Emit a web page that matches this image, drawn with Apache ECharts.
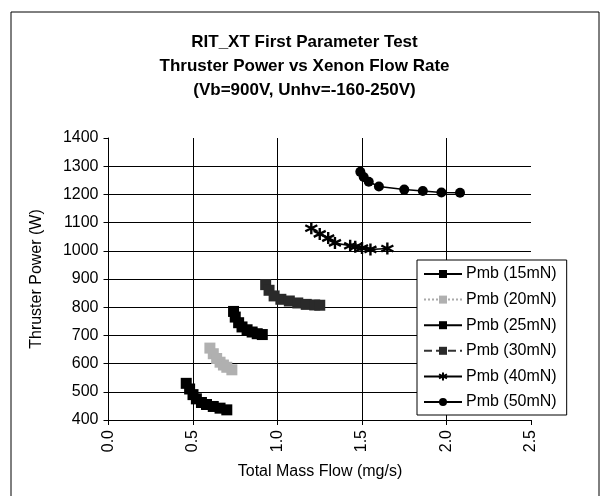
<!DOCTYPE html>
<html><head><meta charset="utf-8">
<script src="https://cdn.jsdelivr.net/npm/echarts@6/dist/echarts.min.js"></script>
<style>html,body{margin:0;padding:0;background:#fff}#c{width:609px;height:496px}</style>
</head><body><div id="c"></div>
<script>
const titleLines = ['RIT_XT First Parameter Test', 'Thruster Power vs Xenon Flow Rate', '(Vb=900V, Unhv=-160-250V)'];
const xName = 'Total Mass Flow (mg/s)';
const yName = 'Thruster Power (W)';
const seriesNames = ['Pmb (15mN)', 'Pmb (20mN)', 'Pmb (25mN)', 'Pmb (30mN)', 'Pmb (40mN)', 'Pmb (50mN)'];
const flow15 = [0.46, 0.48, 0.50, 0.52, 0.55, 0.58, 0.62, 0.66, 0.70];
const pow15  = [530, 510, 490, 475, 462, 455, 448, 442, 436];
const flow20 = [0.60, 0.62, 0.64, 0.66, 0.68, 0.70, 0.73];
const pow20  = [655, 635, 618, 605, 595, 587, 578];
const flow25 = [0.74, 0.75, 0.77, 0.79, 0.82, 0.85, 0.88, 0.91];
const pow25  = [785, 765, 745, 730, 720, 712, 706, 703];
const flow30 = [0.93, 0.95, 0.98, 1.02, 1.07, 1.12, 1.17, 1.22, 1.25];
const pow30  = [880, 860, 840, 828, 822, 815, 810, 808, 807];
const flow40 = [1.20, 1.25, 1.30, 1.34, 1.43, 1.46, 1.50, 1.55, 1.65];
const pow40  = [1080, 1060, 1045, 1028, 1018, 1014, 1010, 1005, 1008];
const flow50 = [1.49, 1.51, 1.54, 1.60, 1.75, 1.86, 1.97, 2.08];
const pow50  = [1280, 1262, 1245, 1228, 1217, 1212, 1207, 1206];
const xTicks = [0, 0.5, 1.0, 1.5, 2.0, 2.5];
const yTicks = [400, 500, 600, 700, 800, 900, 1000, 1100, 1200, 1300, 1400];

const zip = (a, b) => a.map((v, i) => [v, b[i]]);
const font = '"Liberation Sans", Arial, sans-serif';
const star = 'path://M0,-10L0,10M-8.7,-5L8.7,5M-8.7,5L8.7,-5';

const chart = echarts.init(document.getElementById('c'), null, {renderer: 'canvas'});
chart.setOption({
  animation: false,
  backgroundColor: '#fff',
  graphic: [
    {type: 'rect', shape: {x: 11, y: 12, width: 588, height: 500}, style: {fill: 'none', stroke: '#000', lineWidth: 1}, silent: true},
    {type: 'text', left: 'center', top: 30, style: {text: titleLines.join('\n'), font: 'bold 17px ' + font, fill: '#000', textAlign: 'center', lineHeight: 24}, z: 10},
    {type: 'text', x: 320, y: 472, style: {text: xName, font: '16px ' + font, fill: '#000', align: 'center', verticalAlign: 'middle'}},
    {type: 'text', x: 37, y: 279, rotation: Math.PI / 2, style: {text: yName, font: '16px ' + font, fill: '#000', align: 'center', verticalAlign: 'middle'}}
  ],
  grid: {left: 108.5, right: 78, top: 138, bottom: 76, containLabel: false},
  legend: {
    orient: 'vertical', left: 417, top: 260,
    data: seriesNames,
    backgroundColor: '#fff', borderColor: '#000', borderWidth: 1,
    padding: [6, 10, 5, 6],
    itemWidth: 38, itemHeight: 10, itemGap: 9.6,
    textStyle: {fontFamily: font, fontSize: 16, color: '#000', padding: [0, 0, 0, -1]},
    z: 20
  },
  xAxis: {
    type: 'value', min: xTicks[0], max: xTicks[xTicks.length - 1], interval: 0.5,
    axisLine: {show: true, onZero: false, lineStyle: {color: '#000', width: 1}},
    axisTick: {show: true, length: 5, lineStyle: {color: '#000'}},
    axisLabel: {rotate: 90, fontFamily: font, fontSize: 16, color: '#000', margin: 10,
      formatter: v => v.toFixed(1)},
    splitLine: {show: true, showMinLine: false, showMaxLine: false, lineStyle: {color: '#000', width: 1}}
  },
  yAxis: {
    type: 'value', min: yTicks[0], max: yTicks[yTicks.length - 1], interval: 100,
    axisLine: {show: true, onZero: false, lineStyle: {color: '#000', width: 1}},
    axisTick: {show: true, length: 5, lineStyle: {color: '#000'}},
    axisLabel: {fontFamily: font, fontSize: 16, color: '#000', margin: 10, formatter: v => String(v)},
    splitLine: {show: true, showMinLine: false, showMaxLine: false, lineStyle: {color: '#000', width: 1}}
  },
  series: [
    {name: seriesNames[0], type: 'line', data: zip(flow15, pow15), symbol: 'rect', symbolSize: 11,
      lineStyle: {color: '#000', width: 1.5}, itemStyle: {color: '#000'}},
    {name: seriesNames[1], type: 'line', data: zip(flow20, pow20), symbol: 'rect', symbolSize: 11,
      lineStyle: {color: '#aaa', width: 1, type: 'dotted'}, itemStyle: {color: '#b0b0b0'}},
    {name: seriesNames[2], type: 'line', data: zip(flow25, pow25), symbol: 'rect', symbolSize: 11,
      lineStyle: {color: '#000', width: 1.5}, itemStyle: {color: '#000'}},
    {name: seriesNames[3], type: 'line', data: zip(flow30, pow30), symbol: 'rect', symbolSize: 11,
      lineStyle: {color: '#333', width: 1.5, type: 'dashed'}, itemStyle: {color: '#2a2a2a'}},
    {name: seriesNames[4], type: 'line', data: zip(flow40, pow40), symbol: star, symbolSize: 12,
      lineStyle: {color: '#000', width: 1.5}, itemStyle: {color: '#000', borderColor: '#000', borderWidth: 2.4}},
    {name: seriesNames[5], type: 'line', data: zip(flow50, pow50), symbol: 'circle', symbolSize: 10,
      lineStyle: {color: '#000', width: 1.5}, itemStyle: {color: '#000'}}
  ]
});
</script>
</body></html>
